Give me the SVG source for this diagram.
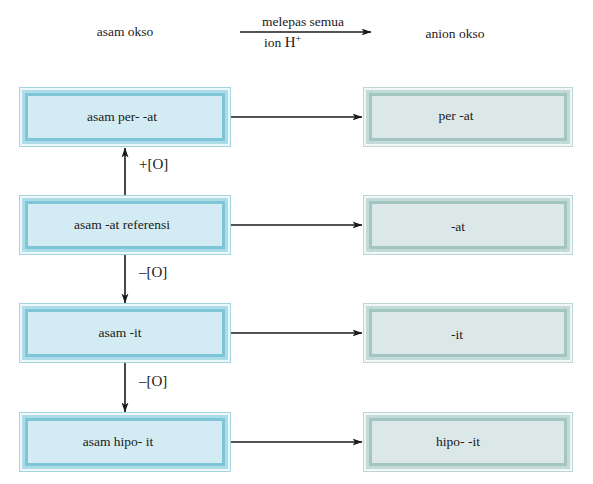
<svg xmlns="http://www.w3.org/2000/svg" width="593" height="484" viewBox="0 0 593 484">
<style>
text{font-family:"Liberation Serif","Times New Roman",serif;font-size:13.5px;fill:#1a1a1a}
.t{text-anchor:middle}
.o{font-size:15px}
.c{stroke:#1a1a1a;stroke-width:1.6;fill:none}
.a0{fill:#a3d5e1}.a1{fill:#eef8fb}.a2{fill:#acdce7}.a3{fill:#7ec5d7}.a4{fill:#d3ebf2}
.b0{fill:#bcd6d3}.b1{fill:#f1f7f6}.b2{fill:#c2dbd8}.b3{fill:#a2c5c0}.b4{fill:#dce8e8}
</style>
<defs>
<marker id="ah" viewBox="0 0 10 8" refX="9.5" refY="4" markerWidth="10" markerHeight="8" markerUnits="userSpaceOnUse" orient="auto">
<path d="M0,0.5 L10,4 L0,7.5 L2.5,4 Z" fill="#1a1a1a"/>
</marker>
<g id="boxA">
<rect class="a0" x="0" y="0" width="212" height="60"/>
<rect class="a1" x="1" y="1" width="210" height="58"/>
<rect class="a2" x="3" y="3" width="206" height="54"/>
<rect class="a3" x="6" y="6" width="200" height="48"/>
<rect class="a4" x="9" y="9" width="194" height="42"/>
</g>
<g id="boxB">
<rect class="b0" x="0" y="0" width="210" height="60"/>
<rect class="b1" x="1" y="1" width="208" height="58"/>
<rect class="b2" x="3" y="3" width="204" height="54"/>
<rect class="b3" x="6" y="6" width="198" height="48"/>
<rect class="b4" x="9" y="9" width="192" height="42"/>
</g>
</defs>
<rect width="593" height="484" fill="#ffffff"/>

<g id="header">
<text class="t" x="125" y="36">asam okso</text>
<text class="t" x="303" y="26">melepas semua</text>
<text x="264" y="47">ion  <tspan font-size="15">H</tspan><tspan font-size="10" dy="-5">+</tspan></text>
<text class="t" x="455" y="38">anion okso</text>
</g>

<g id="connectors">
<line class="c" x1="240" y1="32" x2="371" y2="32" marker-end="url(#ah)"/>
<line class="c" x1="231" y1="117" x2="362" y2="117" marker-end="url(#ah)"/>
<line class="c" x1="231" y1="225" x2="362" y2="225" marker-end="url(#ah)"/>
<line class="c" x1="231" y1="333" x2="362" y2="333" marker-end="url(#ah)"/>
<line class="c" x1="231" y1="442" x2="362" y2="442" marker-end="url(#ah)"/>
<line class="c" x1="125" y1="195" x2="125" y2="148" marker-end="url(#ah)"/>
<line class="c" x1="125" y1="254" x2="125" y2="303" marker-end="url(#ah)"/>
<line class="c" x1="125" y1="363" x2="125" y2="412" marker-end="url(#ah)"/>
<text class="o" x="139" y="169">+[O]</text>
<text class="o" x="139" y="277">–[O]</text>
<text class="o" x="139" y="386">–[O]</text>
</g>

<g id="n1"><use href="#boxA" x="19" y="87"/><text class="t" x="122" y="121">asam per- -at</text></g>
<g id="n2"><use href="#boxA" x="19" y="195"/><text class="t" x="122" y="229">asam -at referensi</text></g>
<g id="n3"><use href="#boxA" x="19" y="303"/><text class="t" x="120" y="337">asam -it</text></g>
<g id="n4"><use href="#boxA" x="19" y="412"/><text class="t" x="118" y="446">asam hipo- it</text></g>

<g id="m1"><use href="#boxB" x="363" y="87"/><text class="t" x="456" y="120">per -at</text></g>
<g id="m2"><use href="#boxB" x="363" y="195"/><text class="t" x="458" y="231">-at</text></g>
<g id="m3"><use href="#boxB" x="363" y="303"/><text class="t" x="457" y="339">-it</text></g>
<g id="m4"><use href="#boxB" x="363" y="412"/><text class="t" x="458" y="446">hipo- -it</text></g>
</svg>
